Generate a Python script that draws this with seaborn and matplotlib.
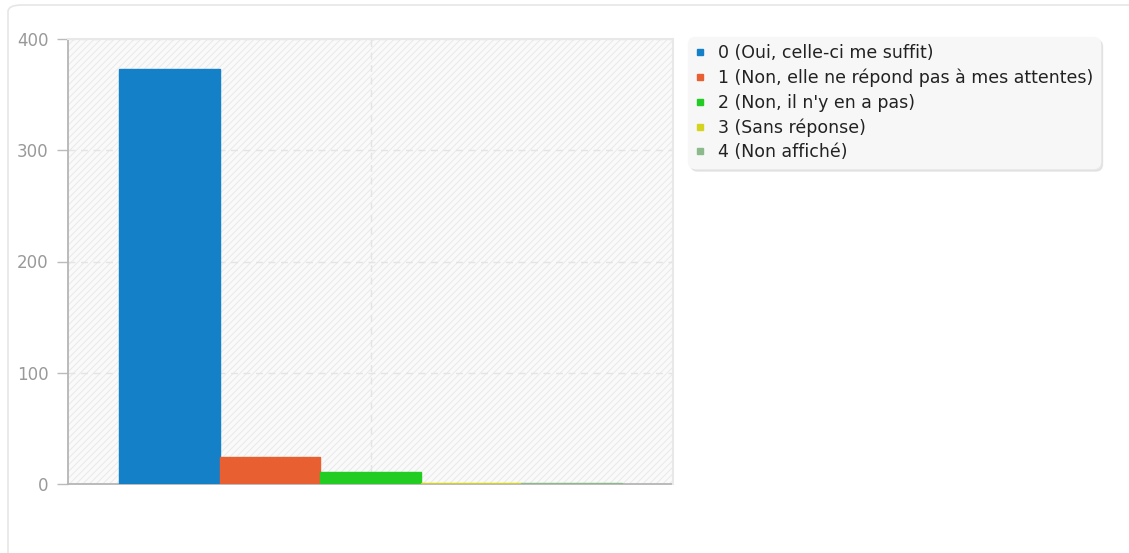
import pandas as pd
import matplotlib
matplotlib.use('Agg')
import matplotlib.pyplot as plt
import seaborn as sns
from matplotlib.lines import Line2D
from matplotlib.patches import Rectangle, FancyBboxPatch

# Data
reponses = ['0 (Oui, celle-ci me suffit)',
            '1 (Non, elle ne répond pas à mes attentes)',
            "2 (Non, il n'y en a pas)",
            '3 (Sans réponse)',
            '4 (Non affiché)']
effectifs = [373, 24, 11, 1, 1]
couleurs = ['#1380c8', '#e85f32', '#22cc22', '#d4d41e', '#8cba8c']

df = pd.DataFrame({'question': [''] * len(reponses),
                   'reponse': reponses,
                   'effectif': effectifs})

sns.set_style('white')
plt.rcParams['font.family'] = ['DejaVu Sans']
plt.rcParams['hatch.color'] = '#e9e9e9'
plt.rcParams['hatch.linewidth'] = 0.7

fig = plt.figure(figsize=(11.29, 5.53), dpi=100)
ax = fig.add_axes([68 / 1129, 1 - 484 / 553, 605 / 1129, 445 / 553])

# outer card border (open at the bottom)
fig.patches.append(FancyBboxPatch((8 / 1129, -0.2), 1.2, 1.2 - 5 / 553,
                                  boxstyle='round,pad=0,rounding_size=0.012',
                                  transform=fig.transFigure, facecolor='white',
                                  edgecolor='#e6e6e6', linewidth=1.2, zorder=-10))

# hatched plot background
ax.set_facecolor('#fafafa')
ax.add_patch(Rectangle((0, 0), 1, 1, transform=ax.transAxes, facecolor='none',
                       hatch='/////', edgecolor='#e9e9e9', linewidth=0, zorder=0))

sns.barplot(data=df, x='question', y='effectif', hue='reponse', palette=couleurs,
            width=0.83, saturation=1, ax=ax, legend=False, zorder=6)
for p in ax.patches[1:]:
    p.set_edgecolor(p.get_facecolor())
    p.set_linewidth(1.0)

ax.set_xlim(-0.5, 0.5)
ax.set_ylim(0, 400)
ax.set_yticks([0, 100, 200, 300, 400])
ax.set_xticks([0])
ax.set_xticklabels([''])
ax.set_xlabel('')
ax.set_ylabel('')
ax.grid(True, color='#e4e4e4', linestyle=(0, (5, 4)), linewidth=1, zorder=1)
ax.set_axisbelow(True)
ax.tick_params(axis='y', length=8, width=1, color='#bbbbbb', labelcolor='#999999',
               labelsize=12, pad=6, left=True)
ax.tick_params(axis='x', length=0)
for s in ['top', 'right']:
    ax.spines[s].set_color('#e8e8e8')
    ax.spines[s].set_linewidth(1.5)
for s in ['left', 'bottom']:
    ax.spines[s].set_color('#b5b5b5')
    ax.spines[s].set_linewidth(1.3)
    ax.spines[s].set_zorder(2)

handles = [Line2D([], [], marker='s', linestyle='', markersize=4.5, color=c)
           for c in couleurs]
leg = fig.legend(handles, reponses, loc='upper left',
                 bbox_to_anchor=(688 / 1129, 1 - 37 / 553),
                 frameon=True, fancybox=True, shadow={'color': '#d8d8d8', 'alpha': 0.6},
                 facecolor='#f7f7f7', edgecolor='#f7f7f7', framealpha=1,
                 fontsize=12.5, handlelength=0.6, handletextpad=0.7,
                 labelspacing=0.38, borderpad=0.4, borderaxespad=0)
leg.get_frame().set_boxstyle('round,pad=0,rounding_size=0.4')
for t in leg.get_texts():
    t.set_color('#222222')

fig.savefig('out.png', dpi=100)
